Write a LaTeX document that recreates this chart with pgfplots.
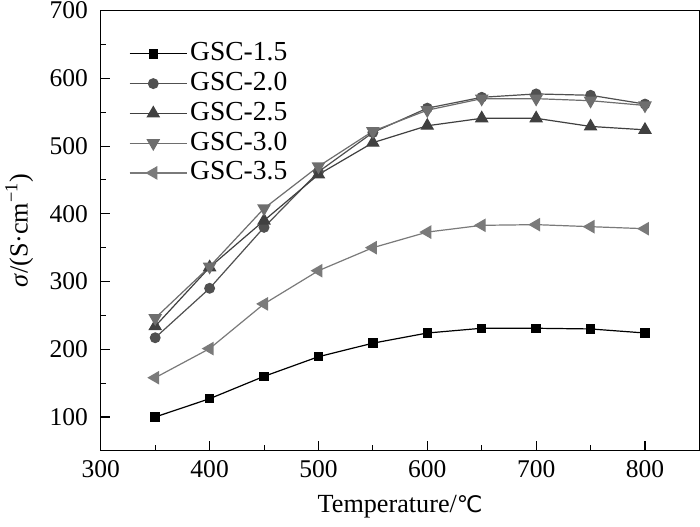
\documentclass[border=0pt]{standalone}
\usepackage{fontspec}
\setmainfont{Liberation Serif}
\newfontfamily\dejavu{DejaVu Sans}
\usepackage{pgfplots}
\pgfplotsset{compat=1.18}
\definecolor{c20}{HTML}{505050}
\definecolor{c25}{HTML}{404040}
\definecolor{c30}{HTML}{6E6E6E}
\definecolor{c35}{HTML}{7A7A7A}
\begin{document}
\fontsize{20.5}{24}\selectfont
\begin{tikzpicture}
\begin{axis}[
  scale only axis,
  width=446pt, height=328pt,
  xmin=300, xmax=850, ymin=50, ymax=700,
  xtick={300,400,...,800}, ytick={100,200,...,700},
  minor xtick={350,450,...,850}, minor ytick={50,150,...,650},
  tick align=inside,
  xtick pos=bottom, ytick pos=left,
  major tick length=7pt, minor tick length=4pt,
  tick style={black, line width=0.8pt},
  axis line style={line width=0.9pt},
  /pgf/number format/assume math mode=true,
  /pgf/number format/1000 sep={},
  ticklabel style={font=\fontsize{19}{22}\selectfont},
  yticklabel style={inner sep=1.5pt, xshift=-8pt},
  label style={font=\fontsize{19.5}{24}\selectfont},
  xlabel={Temperature/{\dejavu\fontsize{17}{20}\selectfont ℃}},
  ylabel={\textit{σ}/(S·cm\textsuperscript{−1})},
  xlabel style={yshift=1pt},
  ylabel style={inner sep=4pt, yshift=6.5pt},
  legend style={draw=none, fill=none, at={(0.04,0.94)}, anchor=north west,
    font=\fontsize{20.5}{24}\selectfont, row sep=1.5pt},
  legend cell align=left,
  legend image code/.code={
    \draw[mark repeat=2,mark phase=2,#1] plot coordinates {(0cm,0cm) (0.62cm,0cm) (1.24cm,0cm)};
    \path (1.24cm,0) -- (1.5cm,0);
  },
]
\addplot[black, line width=0.9pt, mark=square*, mark size=3.1pt, mark options={solid}]
 coordinates {(350,100)(400,127)(450,160)(500,189)(550,209)(600,224)(650,231)(700,231)(750,230)(800,224)};
\addlegendentry{GSC-1.5}
\addplot[c20, line width=0.9pt, mark=*, mark size=3.6pt]
 coordinates {(350,217)(400,290)(450,380)(500,462)(550,520)(600,556)(650,572)(700,577)(750,575)(800,562)};
\addlegendentry{GSC-2.0}
\addplot[c25, line width=0.9pt, mark=triangle*, mark size=5pt]
 coordinates {(350,234)(400,321)(450,390)(500,458)(550,505)(600,530)(650,541)(700,541)(750,529)(800,524)};
\addlegendentry{GSC-2.5}
\addplot[c30, line width=0.9pt, mark=triangle*, mark size=5pt, mark options={rotate=180}]
 coordinates {(350,246)(400,322)(450,408)(500,470)(550,522)(600,553)(650,570)(700,570)(750,567)(800,560)};
\addlegendentry{GSC-3.0}
\addplot[c35, line width=0.9pt, mark=triangle*, mark size=5pt, mark options={rotate=90}]
 coordinates {(350,158)(400,201)(450,267)(500,316)(550,350)(600,373)(650,383)(700,384)(750,381)(800,378)};
\addlegendentry{GSC-3.5}
\end{axis}
\end{tikzpicture}
\end{document}
